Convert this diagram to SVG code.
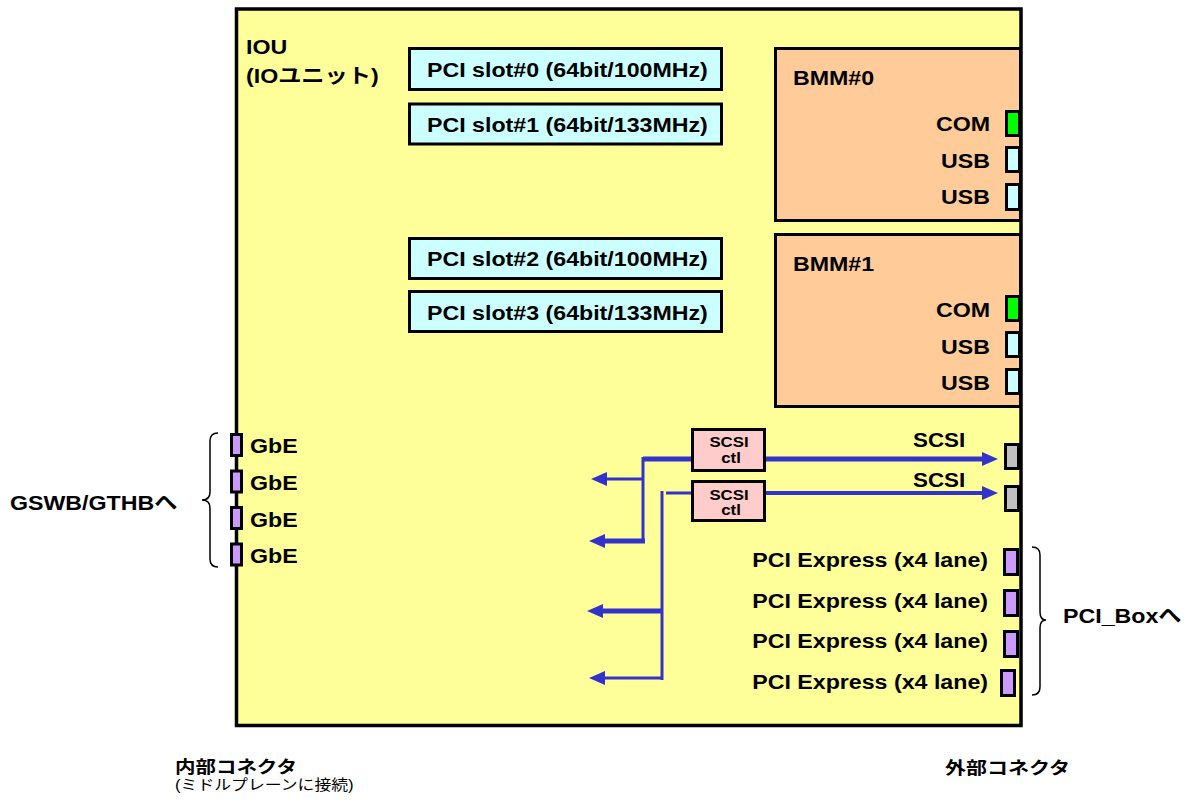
<svg xmlns="http://www.w3.org/2000/svg" width="1186" height="800" viewBox="0 0 1186 800">
<style>
.t{font-family:"Liberation Sans","Noto Sans CJK JP",sans-serif;font-weight:bold;font-size:20px;fill:#000}
.e{text-anchor:end}
.m{text-anchor:middle}
.s{font-size:14px}
.j{font-size:17.5px}
.n{font-size:14.4px;font-weight:normal}
.box{stroke:#000;stroke-width:3}
.slot{fill:#CCFFFF}
.bmm{fill:#FFCC99}
.com{fill:#00FF00}
.usb{fill:#CCFFFF}
.vio{fill:#CC99FF}
.gray{fill:#C0C0C0}
.ctl{fill:#FFCCCC}
.ln{stroke:#3333CC;fill:none}
.w5{stroke-width:5}
.w4{stroke-width:4}
.w3{stroke-width:3}
.brace{fill:none;stroke:#000;stroke-width:1.5}
</style>
<defs>
<marker id="ah" markerUnits="userSpaceOnUse" markerWidth="16" markerHeight="14" viewBox="0 0 16 14" refX="0" refY="7" orient="auto">
<path d="M0,0 L16,7 L0,14 z" fill="#3333CC"/>
</marker>
</defs>
<rect width="1186" height="800" fill="#fff"/>
<g id="iou">
<rect x="236.5" y="9" width="784.5" height="716.5" fill="#FFFF99" stroke="#000" stroke-width="3.5"/>
<text class="t" transform="translate(246,54) scale(1.16,1)">IOU</text>
<text class="t" transform="translate(246,83) scale(1.16,1)">(IOユニット)</text>
</g>
<g id="pci-slot-0"><rect class="box slot" x="409.5" y="48.5" width="312" height="41"/><text class="t" transform="translate(427,77) scale(1.16,1)">PCI slot#0 (64bit/100MHz)</text></g>
<g id="pci-slot-1"><rect class="box slot" x="409.5" y="104" width="312" height="40"/><text class="t" transform="translate(427,132) scale(1.16,1)">PCI slot#1 (64bit/133MHz)</text></g>
<g id="pci-slot-2"><rect class="box slot" x="409.5" y="238.5" width="312" height="40"/><text class="t" transform="translate(427,266) scale(1.16,1)">PCI slot#2 (64bit/100MHz)</text></g>
<g id="pci-slot-3"><rect class="box slot" x="409.5" y="291.5" width="312" height="40"/><text class="t" transform="translate(427,319.5) scale(1.16,1)">PCI slot#3 (64bit/133MHz)</text></g>
<g id="bmm-0">
<rect class="box bmm" x="775.5" y="48.5" width="245" height="172"/>
<text class="t" transform="translate(793,85) scale(1.16,1)">BMM#0</text>
<text class="t e" transform="translate(990,131) scale(1.16,1)">COM</text>
<text class="t e" transform="translate(990,168) scale(1.16,1)">USB</text>
<text class="t e" transform="translate(990,204) scale(1.16,1)">USB</text>
<rect class="box com" x="1006.5" y="111.5" width="13" height="24"/>
<rect class="box usb" x="1006.5" y="147.5" width="13" height="24"/>
<rect class="box usb" x="1006.5" y="184.5" width="13" height="25"/>
</g>
<g id="bmm-1">
<rect class="box bmm" x="775.5" y="234.5" width="245" height="172"/>
<text class="t" transform="translate(793,271) scale(1.16,1)">BMM#1</text>
<text class="t e" transform="translate(990,317) scale(1.16,1)">COM</text>
<text class="t e" transform="translate(990,354) scale(1.16,1)">USB</text>
<text class="t e" transform="translate(990,390) scale(1.16,1)">USB</text>
<rect class="box com" x="1006.5" y="296.5" width="13" height="24"/>
<rect class="box usb" x="1006.5" y="332.5" width="13" height="24"/>
<rect class="box usb" x="1006.5" y="369.5" width="13" height="24"/>
</g>
<g id="connectors">
<line class="ln w5" x1="643" y1="459" x2="693" y2="459"/>
<line class="ln w5" x1="764" y1="459" x2="982" y2="459" marker-end="url(#ah)"/>
<line class="ln w3" x1="643" y1="457" x2="643" y2="543"/>
<line class="ln w3" x1="644" y1="479" x2="607" y2="479" marker-end="url(#ah)"/>
<line class="ln w5" x1="645" y1="541" x2="605" y2="541" marker-end="url(#ah)"/>
<line class="ln w3" x1="666" y1="493" x2="693" y2="493"/>
<line class="ln w4" x1="764" y1="493" x2="982" y2="493" marker-end="url(#ah)"/>
<line class="ln w3" x1="662" y1="491" x2="662" y2="680"/>
<line class="ln w5" x1="663" y1="611" x2="603" y2="611" marker-end="url(#ah)"/>
<line class="ln w3" x1="663" y1="678" x2="605" y2="678" marker-end="url(#ah)"/>
</g>
<g id="scsi-ctl-0">
<rect class="box ctl" x="692.5" y="429.5" width="72" height="41"/>
<text class="t s m" transform="translate(729,447) scale(1.2,1)">SCSI</text>
<text class="t s m" transform="translate(731,463) scale(1.2,1)">ctl</text>
</g>
<g id="scsi-ctl-1">
<rect class="box ctl" x="692.5" y="481.5" width="72" height="39"/>
<text class="t s m" transform="translate(729,500) scale(1.2,1)">SCSI</text>
<text class="t s m" transform="translate(731,515) scale(1.2,1)">ctl</text>
</g>
<g id="scsi-ports">
<text class="t" transform="translate(913,446.5) scale(1.12,1)">SCSI</text>
<text class="t" transform="translate(913,486.5) scale(1.12,1)">SCSI</text>
<rect class="box gray" x="1005.5" y="444.5" width="13" height="24"/>
<rect class="box gray" x="1005.5" y="486.5" width="13" height="24"/>
</g>
<g id="pcie-ports">
<text class="t e" transform="translate(988,567) scale(1.16,1)">PCI Express (x4 lane)</text>
<text class="t e" transform="translate(988,608) scale(1.16,1)">PCI Express (x4 lane)</text>
<text class="t e" transform="translate(988,648) scale(1.16,1)">PCI Express (x4 lane)</text>
<text class="t e" transform="translate(988,689) scale(1.16,1)">PCI Express (x4 lane)</text>
<rect class="box vio" x="1004.5" y="549.5" width="13" height="25"/>
<rect class="box vio" x="1004.5" y="590.5" width="13" height="25"/>
<rect class="box vio" x="1004.5" y="631.5" width="13" height="25"/>
<rect class="box vio" x="1001.5" y="670.5" width="13" height="25"/>
<path class="brace" d="M1032,547 Q1040,547 1040,555 L1040,612 Q1040,620 1046,620 Q1040,620 1040,628 L1040,687 Q1040,695 1032,695"/>
<text class="t" transform="translate(1063,623) scale(1.16,1)">PCI_Boxへ</text>
</g>
<g id="gbe-ports">
<rect class="box vio" x="231.5" y="434.5" width="10" height="21"/>
<rect class="box vio" x="231.5" y="471" width="10" height="21"/>
<rect class="box vio" x="231.5" y="507.5" width="10" height="21"/>
<rect class="box vio" x="231.5" y="544" width="10" height="21"/>
<text class="t" transform="translate(250,453) scale(1.16,1)">GbE</text>
<text class="t" transform="translate(250,490) scale(1.16,1)">GbE</text>
<text class="t" transform="translate(250,527) scale(1.16,1)">GbE</text>
<text class="t" transform="translate(250,563) scale(1.16,1)">GbE</text>
<path class="brace" d="M218,433 Q210,433 210,441 L210,492 Q210,500 202,500 Q210,500 210,508 L210,559 Q210,567 218,567"/>
<text class="t" transform="translate(10,510) scale(1.16,1)">GSWB/GTHBへ</text>
</g>
<g id="captions">
<text class="t j" transform="translate(175,773) scale(1.17,1)">内部コネクタ</text>
<text class="t n" transform="translate(175,790) scale(1.17,1)">(ミドルプレーンに接続)</text>
<text class="t j" transform="translate(945,774) scale(1.2,1)">外部コネクタ</text>
</g>
</svg>
